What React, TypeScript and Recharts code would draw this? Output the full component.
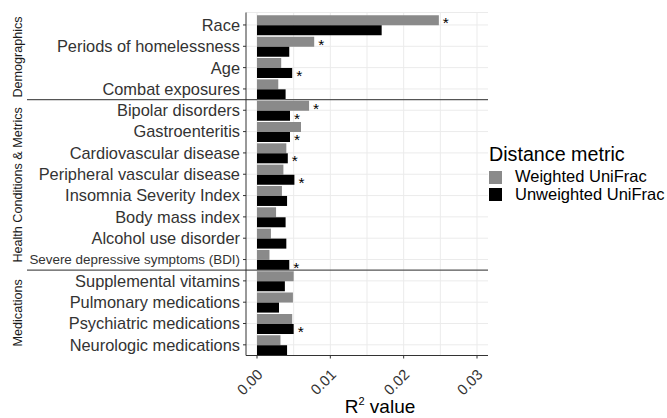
import React from "react";
import {
  BarChart,
  Bar,
  XAxis,
  YAxis,
  CartesianGrid,
  ReferenceLine,
  LabelList,
  Label,
} from "recharts";

// Predictors, top to bottom
const categories = [
  "Race",
  "Periods of homelessness",
  "Age",
  "Combat exposures",
  "Bipolar disorders",
  "Gastroenteritis",
  "Cardiovascular disease",
  "Peripheral vascular disease",
  "Insomnia Severity Index",
  "Body mass index",
  "Alcohol use disorder",
  "Severe depressive symptoms (BDI)",
  "Supplemental vitamins",
  "Pulmonary medications",
  "Psychiatric medications",
  "Neurologic medications",
];

// PERMANOVA R² per predictor
const weightedR2 = [
  0.0248, 0.0078, 0.0033, 0.0029, 0.0071, 0.006, 0.004, 0.0036,
  0.0034, 0.0026, 0.0019, 0.0017, 0.005, 0.0049, 0.0048, 0.0032,
];
const unweightedR2 = [
  0.017, 0.0044, 0.0048, 0.0039, 0.0045, 0.0045, 0.0042, 0.0051,
  0.0041, 0.0039, 0.004, 0.0044, 0.0038, 0.003, 0.005, 0.0041,
];

// Significance flags (drawn as *)
const weightedSig = [
  true, true, false, false, true, false, false, false,
  false, false, false, false, false, false, false, false,
];
const unweightedSig = [
  false, false, true, false, true, true, true, true,
  false, false, false, true, false, false, true, false,
];

const seriesNames = ["Weighted UniFrac", "Unweighted UniFrac"];
const legendTitle = "Distance metric";

const xTicks = [0, 0.01, 0.02, 0.03];
const gridValues = [0, 0.005, 0.01, 0.015, 0.02, 0.025, 0.03];

// Facet groups: first category of each block (for separators) and
// the category whose band start sits at the block's middle (for the strip label)
const facetStarts = ["Bipolar disorders", "Supplemental vitamins"];
const facetLabels = [
  { label: "Demographics", middleAt: "Age" },
  { label: "Health Conditions & Metrics", middleAt: "Insomnia Severity Index" },
  { label: "Medications", middleAt: "Psychiatric medications" },
];

const data = categories.map((name, i) => ({
  name,
  weighted: weightedR2[i],
  unweighted: unweightedR2[i],
}));

const FONT = "'Liberation Sans', Arial, Helvetica, sans-serif";
const GRAY = "#8a8a8a";
const BLACK = "#000000";

const CategoryTick = (props: any) => {
  const { x, y, payload } = props;
  const small = payload.value === "Severe depressive symptoms (BDI)";
  const fs = small ? 13.4 : 16.4;
  return (
    <text
      x={x}
      y={y}
      dy={fs * 0.36}
      textAnchor="end"
      fontSize={fs}
      fontFamily={FONT}
      fill="#333333"
    >
      {payload.value}
    </text>
  );
};

const ValueTick = (props: any) => {
  const { x, y, payload } = props;
  const px = x + 6.7;
  const py = y + 15;
  return (
    <text
      x={px}
      y={py}
      textAnchor="end"
      fontSize={14.8}
      fontFamily={FONT}
      fill="#333333"
      transform={`rotate(-45, ${px}, ${py})`}
    >
      {Number(payload.value).toFixed(2)}
    </text>
  );
};

const starContent = (flags: boolean[]) => (props: any) => {
  const { x, y, width, height, index } = props;
  if (!flags[index]) return null;
  return (
    <text
      x={x + width + 4}
      y={y + height / 2 + 8}
      fontSize={15.5}
      fontFamily={FONT}
      fill="#000"
    >
      *
    </text>
  );
};

const AxisTitle = (props: any) => {
  const { viewBox } = props;
  const cx = viewBox.x + viewBox.width / 2 + 13;
  return (
    <text
      x={cx}
      y={413}
      textAnchor="middle"
      fontSize={19}
      fontFamily={FONT}
      fill="#000"
    >
      R
      <tspan fontSize={11} dy={-8}>
        2
      </tspan>
      <tspan dy={8}> value</tspan>
    </text>
  );
};

const LegendBox = () => (
  <div
    style={{
      position: "absolute",
      left: 489,
      top: 140,
      width: 180,
      height: 70,
      fontFamily: FONT,
      color: "#000",
    }}
  >
    <div
      style={{
        position: "absolute",
        left: 0,
        top: 5.2,
        fontSize: 19.7,
        lineHeight: "19.7px",
        whiteSpace: "nowrap",
      }}
    >
      {legendTitle}
    </div>
    {[GRAY, BLACK].map((c, i) => (
      <React.Fragment key={c}>
        <div
          style={{
            position: "absolute",
            left: 0,
            top: 30.5 + i * 17.5,
            width: 13,
            height: 13,
            background: c,
          }}
        />
        <div
          style={{
            position: "absolute",
            left: 26,
            top: 28.4 + i * 17.5,
            fontSize: 16.5,
            lineHeight: "16.5px",
            whiteSpace: "nowrap",
          }}
        >
          {seriesNames[i]}
        </div>
      </React.Fragment>
    ))}
  </div>
);

export default function App() {
  return (
    <div
      style={{
        position: "absolute",
        left: 0,
        top: 0,
        width: 667,
        height: 418,
        background: "#fff",
      }}
    >
      <BarChart
        width={667}
        height={418}
        data={data}
        layout="vertical"
        margin={{ top: 12.5, right: 179, bottom: 0, left: 0 }}
        barCategoryGap="5%"
        barGap={0}
      >
        <CartesianGrid
          stroke="#ebebeb"
          strokeWidth={1}
          horizontal={true}
          vertical={true}
          verticalValues={gridValues}
        />
        <XAxis
          type="number"
          domain={[-0.0015, 0.0315]}
          ticks={xTicks}
          allowDataOverflow
          height={62.5}
          tickSize={3}
          tickMargin={2}
          stroke="#333333"
          tick={<ValueTick />}
          interval={0}
        >
          <Label content={<AxisTitle />} />
        </XAxis>
        <YAxis
          type="category"
          dataKey="name"
          width={246}
          tickSize={3}
          tickMargin={3}
          stroke="#333333"
          tick={<CategoryTick />}
          interval={0}
          padding={{ top: 1.8, bottom: 0 }}
        />
        <Bar
          dataKey="weighted"
          name={seriesNames[0]}
          fill={GRAY}
          isAnimationActive={false}
        >
          <LabelList dataKey="weighted" content={starContent(weightedSig)} />
        </Bar>
        <Bar
          dataKey="unweighted"
          name={seriesNames[1]}
          fill={BLACK}
          isAnimationActive={false}
        >
          <LabelList
            dataKey="unweighted"
            content={starContent(unweightedSig)}
          />
        </Bar>
        {facetStarts.map((c) => (
          <ReferenceLine
            key={c}
            y={c}
            position="start"
            stroke="#555555"
            strokeWidth={1.2}
            ifOverflow="visible"
            shape={(p: any) => (
              <line
                x1={27}
                y1={p.y1}
                x2={p.x2}
                y2={p.y2}
                stroke="#555555"
                strokeWidth={1.2}
              />
            )}
          />
        ))}
        {facetLabels.map((f) => (
          <ReferenceLine
            key={f.label}
            y={f.middleAt}
            position="start"
            ifOverflow="visible"
            shape={(p: any) => (
              <text
                x={22.5}
                y={p.y1}
                textAnchor="middle"
                fontSize={12.6}
                fontFamily={FONT}
                fill="#1a1a1a"
                transform={`rotate(-90, 22.5, ${p.y1})`}
              >
                {f.label}
              </text>
            )}
          />
        ))}
      </BarChart>
      <LegendBox />
    </div>
  );
}
